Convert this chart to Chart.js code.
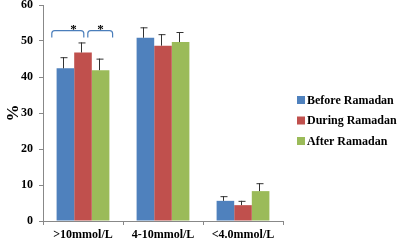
<!DOCTYPE html>
<html>
<head>
<meta charset="utf-8">
<script src="https://cdn.jsdelivr.net/npm/chart.js@4/dist/chart.umd.min.js"></script>
<style>
  html, body { margin: 0; padding: 0; background: #fff; }
  #wrap { width: 400px; height: 240px; }
</style>
</head>
<body>
<div id="wrap"><canvas id="chart" width="400" height="240"></canvas></div>
<script>
const categories = [">10mmol/L", "4-10mmol/L", "<4.0mmol/L"];
const seriesNames = ["Before Ramadan", "During Ramadan", "After Ramadan"];
const beforeValues = [42.4, 50.9, 5.6];
const duringValues = [46.8, 48.7, 4.4];
const afterValues = [41.9, 49.7, 8.3];
const beforeErr = [3.1, 2.9, 1.3];
const duringErr = [2.8, 3.2, 1.2];
const afterErr = [3.2, 2.8, 2.2];
const yTicks = [0, 10, 20, 30, 40, 50, 60];
// significance brackets: x offsets in category units around the category centre, y in %
const brackets = [
    {cat: 0, from: -0.39, to: 0.01, star: -0.12, y: 52.9},
    {cat: 0, from: 0.06, to: 0.37, star: 0.22, y: 52.9},
];

const colors = ["#4F81BD", "#C0504D", "#9BBB59"];
const serif = "'Liberation Serif', 'Times New Roman', serif";

const errorBars = {
    id: "errorBars",
    afterDatasetsDraw(chart) {
        const {ctx} = chart;
        const y = chart.scales.y;
        ctx.save();
        ctx.strokeStyle = "#333";
        ctx.lineWidth = 1;
        chart.data.datasets.forEach((ds, i) => {
            chart.getDatasetMeta(i).data.forEach((bar, j) => {
                const top = y.getPixelForValue(ds.data[j] + ds.err[j]);
                const x = Math.round(bar.x) - 1.5;
                ctx.beginPath();
                ctx.moveTo(x, bar.y);
                ctx.lineTo(x, top);
                ctx.moveTo(x - 3, top + 0.5);
                ctx.lineTo(x + 4, top + 0.5);
                ctx.stroke();
            });
        });
        ctx.restore();
    }
};

const sigBrackets = {
    id: "sigBrackets",
    afterDatasetsDraw(chart) {
        const {ctx} = chart;
        const xs = chart.scales.x, ys = chart.scales.y;
        const unit = xs.getPixelForValue(1) - xs.getPixelForValue(0);
        ctx.save();
        ctx.strokeStyle = "#4A7EBB";
        ctx.lineWidth = 1.2;
        brackets.forEach(b => {
            const c = xs.getPixelForValue(b.cat);
            const x1 = c + b.from * unit, x2 = c + b.to * unit;
            const yy = ys.getPixelForValue(b.y);
            const leg = 7, r = 3;
            ctx.beginPath();
            ctx.moveTo(x1, yy + leg);
            ctx.arcTo(x1, yy, x1 + r, yy, r);
            ctx.arcTo(x2, yy, x2, yy + r, r);
            ctx.lineTo(x2, yy + leg);
            ctx.stroke();
            ctx.fillStyle = "#000";
            ctx.font = "bold 13px " + serif;
            ctx.textAlign = "center";
            ctx.textBaseline = "middle";
            ctx.fillText("*", c + b.star * unit, yy - 1);
        });
        ctx.restore();
    }
};

// legend drawn to the right of the plot, like the original Excel layout
const sideLegend = {
    id: "sideLegend",
    afterDraw(chart) {
        const {ctx, chartArea} = chart;
        ctx.save();
        ctx.font = "bold 12px " + serif;
        ctx.textBaseline = "middle";
        ctx.textAlign = "left";
        chart.data.datasets.forEach((ds, i) => {
            const x = chartArea.right + 14;
            const y = 100 + i * 20.5;
            ctx.fillStyle = ds.backgroundColor;
            ctx.fillRect(x, y - 4, 8, 8);
            ctx.fillStyle = "#000";
            ctx.fillText(ds.label, x + 10, y + 0.5);
        });
        ctx.restore();
    }
};

const valueSets = [beforeValues, duringValues, afterValues];
const errSets = [beforeErr, duringErr, afterErr];

new Chart(document.getElementById("chart").getContext("2d"), {
    type: "bar",
    data: {
        labels: categories,
        datasets: seriesNames.map((name, i) => ({
            label: name,
            data: valueSets[i],
            err: errSets[i],
            backgroundColor: colors[i],
            borderWidth: 0,
            barPercentage: 1,
            categoryPercentage: 0.66,
        })),
    },
    options: {
        responsive: false,
        animation: false,
        layout: {padding: {top: 5, right: 117, left: 0, bottom: 0}},
        plugins: {
            tooltip: {enabled: false},
            legend: {display: false},
        },
        scales: {
            x: {
                afterFit: s => { s.height = 19; s.paddingLeft = 0; s.paddingRight = 0; },
                border: {color: "#888"},
                grid: {drawOnChartArea: false, tickLength: 4, color: "#888"},
                ticks: {color: "#000", padding: 3, font: {family: serif, size: 12, weight: "bold"}},
            },
            y: {
                min: 0,
                max: 60,
                afterFit: s => { s.width = 43; s.paddingTop = 0; s.paddingBottom = 0; },
                afterBuildTicks: s => { s.ticks = yTicks.map(v => ({value: v})); },
                border: {color: "#888"},
                grid: {drawOnChartArea: false, tickLength: 4, color: "#888"},
                ticks: {color: "#000", padding: 6, font: {family: serif, size: 12, weight: "bold"}},
                title: {
                    display: true,
                    text: "%",
                    color: "#000",
                    padding: {top: 3, bottom: 0},
                    font: {family: serif, size: 17, weight: "bold"},
                },
            },
        },
    },
    plugins: [errorBars, sigBrackets, sideLegend],
});
</script>
</body>
</html>
